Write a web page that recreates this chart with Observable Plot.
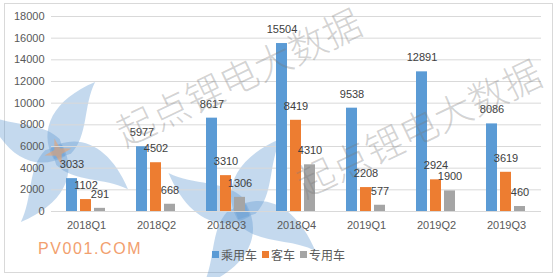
<!DOCTYPE html>
<html>
<head>
<meta charset="utf-8">
<script src="https://cdn.jsdelivr.net/npm/d3@7"></script>
<script src="https://cdn.jsdelivr.net/npm/@observablehq/plot@0.6"></script>
<style>
  html, body { margin: 0; padding: 0; background: #fff; }
  #wrap { position: relative; width: 560px; height: 277px; overflow: hidden; font-family: "Liberation Sans", "Noto Sans CJK SC", sans-serif; }
  #border { position: absolute; left: 4px; top: 3px; width: 549px; height: 270px; border: 1px solid #d9d9d9; box-sizing: border-box; }
  #logo { position: absolute; left: 0; top: 0; }
  #chart { position: absolute; left: 0; top: 0; }
  .wm { position: absolute; font-family: "Noto Sans CJK SC", sans-serif; font-weight: 300; font-size: 38px; line-height: 38px; color: rgba(120,120,120,0.33); white-space: nowrap; transform-origin: 0 50%; transform: rotate(-25.5deg); pointer-events: none; }
  #site { position: absolute; left: 38px; top: 240px; font-family: "Liberation Sans", sans-serif; font-size: 16px; letter-spacing: 1.6px; color: #f2a06e; }
  #legend { position: absolute; left: 212px; top: 246px; display: flex; align-items: center; font-family: "Noto Sans CJK SC", sans-serif; font-size: 12px; color: #595959; }
  #legend .it { display: flex; align-items: center; margin-right: 5px; }
  #legend .sw { width: 7px; height: 7px; margin-right: 2px; }
</style>
</head>
<body>
<div id="wrap">
  <div id="border"></div>
  <svg id="logo" width="560" height="277">
    <defs>
      <path id="blade" d="M -6,6 C -14,-28 10,-52 54,-58 C 36,-38 34,-8 12,5 Z"/>
      <g id="pin" fill="rgba(100,155,210,0.38)">
        <use href="#blade"/>
        <use href="#blade" transform="rotate(90)"/>
        <use href="#blade" transform="rotate(180)"/>
        <use href="#blade" transform="rotate(270)"/>
      </g>
    </defs>
    <g transform="translate(58,152) rotate(-15)">
      <use href="#pin"/>
      <path d="M 0,-14 L 3,-3 L 14,0 L 3,3 L 0,14 L -3,3 L -14,0 L -3,-3 Z" fill="rgba(240,160,100,0.55)"/>
    </g>
    <g transform="translate(242,212) rotate(-15) scale(1.05)">
      <use href="#pin"/>
    </g>
  </svg>
  <div id="chart"></div>
  <div id="site">PV001.COM</div>
  <div id="legend"></div>
  <div class="wm" style="left:118px; top:114px;">起点锂电大数据</div>
  <div class="wm" style="left:298px; top:165px;">起点锂电大数据</div>
</div>
<script>
const quarters = ["2018Q1","2018Q2","2018Q3","2018Q4","2019Q1","2019Q2","2019Q3"];
const seriesNames = ["乘用车","客车","专用车"];
const passenger = [3033, 5977, 8617, 15504, 9538, 12891, 8086];
const bus = [1102, 4502, 3310, 8419, 2208, 2924, 3619];
const special = [291, 668, 1306, 4310, 577, 1900, 460];
const yTicks = [0, 2000, 4000, 6000, 8000, 10000, 12000, 14000, 16000, 18000];
const colors = ["#5B9BD5", "#ED7D31", "#A5A5A5"];

const seriesValues = [passenger, bus, special];
const data = quarters.flatMap((q, i) => seriesNames.map((s, j) => ({q, s, v: seriesValues[j][i]})));

const chart = Plot.plot({
  width: 560,
  height: 237,
  marginLeft: 50,
  marginRight: 19,
  marginTop: 16,
  marginBottom: 26,
  style: {fontFamily: "'Liberation Sans', 'Noto Sans CJK SC', sans-serif", fontSize: "11px", color: "#595959", background: "transparent", overflow: "visible"},
  fx: {domain: quarters, padding: 0, label: null, tickSize: 0, tickPadding: 10, axis: "bottom"},
  x: {domain: seriesNames, axis: null, paddingInner: 0.2, paddingOuter: 0.937},
  y: {domain: [0, 18000], ticks: yTicks, tickFormat: d3.format("d"), tickSize: 0, tickPadding: 7, label: null},
  color: {domain: seriesNames, range: colors},
  marks: [
    Plot.ruleY(yTicks, {stroke: "#d9d9d9", strokeWidth: 1}),
    Plot.barY(data, {fx: "q", x: "s", y: "v", fill: "s"}),
    Plot.text(data, {fx: "q", x: "s", y: "v", text: d => String(d.v), dy: -14, fill: "#404040", fontSize: 11})
  ]
});
document.getElementById("chart").appendChild(chart);

const legend = document.getElementById("legend");
seriesNames.forEach((s, i) => {
  const it = document.createElement("div");
  it.className = "it";
  const sw = document.createElement("div");
  sw.className = "sw";
  sw.style.background = colors[i];
  const t = document.createElement("span");
  t.textContent = s;
  it.appendChild(sw);
  it.appendChild(t);
  legend.appendChild(it);
});
</script>
</body>
</html>
